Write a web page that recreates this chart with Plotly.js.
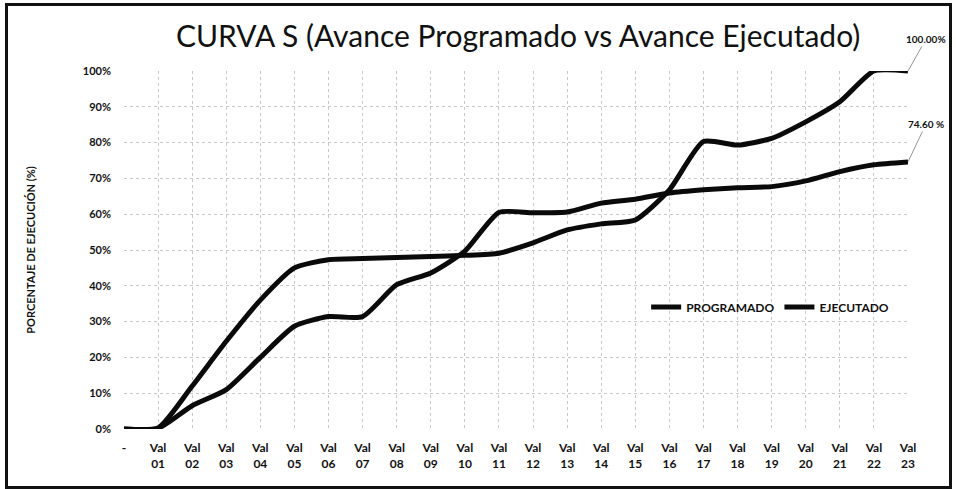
<!DOCTYPE html>
<html>
<head>
<meta charset="utf-8">
<script src="https://cdn.plot.ly/plotly-3.0.1.min.js"></script>
<style>
  html, body { margin: 0; padding: 0; background: #fff; }
  #wrap { position: relative; width: 956px; height: 489px; }
  #chart { width: 956px; height: 489px; }
  #frame { position: absolute; left: 5px; top: 3px; width: 941px; height: 480px; border: 3px solid #111; pointer-events: none; }
</style>
</head>
<body>
<div id="wrap">
  <div id="chart"></div>
  <div id="frame"></div>
</div>
<script>
// Categories (x axis)
const categories = ["-", "Val<br>01", "Val<br>02", "Val<br>03", "Val<br>04", "Val<br>05", "Val<br>06",
  "Val<br>07", "Val<br>08", "Val<br>09", "Val<br>10", "Val<br>11", "Val<br>12", "Val<br>13",
  "Val<br>14", "Val<br>15", "Val<br>16", "Val<br>17", "Val<br>18", "Val<br>19", "Val<br>20",
  "Val<br>21", "Val<br>22", "Val<br>23"];

// Series values (%)
const programado = [0, 0.3, 12, 24.5, 36, 45, 47.3, 47.6, 47.9, 48.2, 48.5, 49.1, 52, 55.6, 57.3,
  58.4, 66.8, 80.3, 79.3, 81.2, 85.8, 91.4, 100, 100];
const ejecutado = [0, 0.2, 6.5, 11, 20, 28.7, 31.4, 31.4, 40.3, 43.6, 49.7, 60.5, 60.4, 60.6, 63.1,
  64.2, 65.9, 66.8, 67.4, 67.7, 69.3, 71.9, 73.8, 74.6];

// Tick labels
const yTickVals = [0, 10, 20, 30, 40, 50, 60, 70, 80, 90, 100];
const yTickText = ["0%", "10%", "20%", "30%", "40%", "50%", "60%", "70%", "80%", "90%", "100%"];
const endLabels = ["100.00%", "74.60 %"];

const lineStyle = { color: "#0a0a0a", width: 5, shape: "spline", smoothing: 0.6 };

const traces = [
  { x: categories, y: programado, name: "PROGRAMADO", type: "scatter", mode: "lines", line: lineStyle },
  { x: categories, y: ejecutado, name: "EJECUTADO", type: "scatter", mode: "lines", line: lineStyle }
];

const FAM = "Lato, 'Open Sans', sans-serif";
const tickFont = { family: FAM, size: 11, color: "#111", weight: 700 };

const layout = {
  width: 956, height: 489,
  margin: { l: 124, r: 48, t: 71, b: 60 },
  paper_bgcolor: "#fff", plot_bgcolor: "#fff",
  title: {
    text: "CURVA S (Avance Programado vs Avance Ejecutado)",
    font: { family: FAM, size: 30, color: "#111" },
    x: 0.542, xanchor: "center", y: 0.925, yanchor: "middle"
  },
  xaxis: {
    type: "category",
    range: [0, categories.length - 1],
    showgrid: true, gridcolor: "#c8c8c8", griddash: "dot", gridwidth: 1,
    zeroline: false, showline: false,
    ticks: "", ticklabelstandoff: 10, tickfont: { family: FAM, size: 12, color: "#111", weight: 700 }, tickangle: 0,
    fixedrange: true
  },
  yaxis: {
    range: [0, 100],
    tickvals: yTickVals, ticktext: yTickText,
    showgrid: true, gridcolor: "#c8c8c8", griddash: "dot", gridwidth: 1,
    zeroline: false, showline: false,
    ticks: "", ticklabelstandoff: 12, tickfont: tickFont,
    title: { text: "PORCENTAJE DE EJECUCIÓN (%)", font: { family: FAM, size: 11, color: "#111", weight: 700 }, standoff: 44 },
    fixedrange: true
  },
  showlegend: true,
  legend: {
    orientation: "h", x: 0.666, y: 0.341, xanchor: "left", yanchor: "middle",
    bgcolor: "rgba(0,0,0,0)",
    font: { family: FAM, size: 12, color: "#111", weight: 700 },
    itemwidth: 30, tracegroupgap: 0
  },
  annotations: [
    { x: categories[categories.length - 1], y: programado[programado.length - 1], xref: "x", yref: "y",
      text: endLabels[0], showarrow: true, arrowhead: 0, arrowwidth: 0.8, arrowcolor: "#777",
      ax: 18, ay: -32, font: { family: FAM, size: 10, color: "#111", weight: 700 } },
    { x: categories[categories.length - 1], y: ejecutado[ejecutado.length - 1], xref: "x", yref: "y",
      text: endLabels[1], showarrow: true, arrowhead: 0, arrowwidth: 0.8, arrowcolor: "#777",
      ax: 18, ay: -38, font: { family: FAM, size: 10, color: "#111", weight: 700 } }
  ]
};

Plotly.newPlot("chart", traces, layout, { displayModeBar: false, staticPlot: true });
</script>
</body>
</html>
